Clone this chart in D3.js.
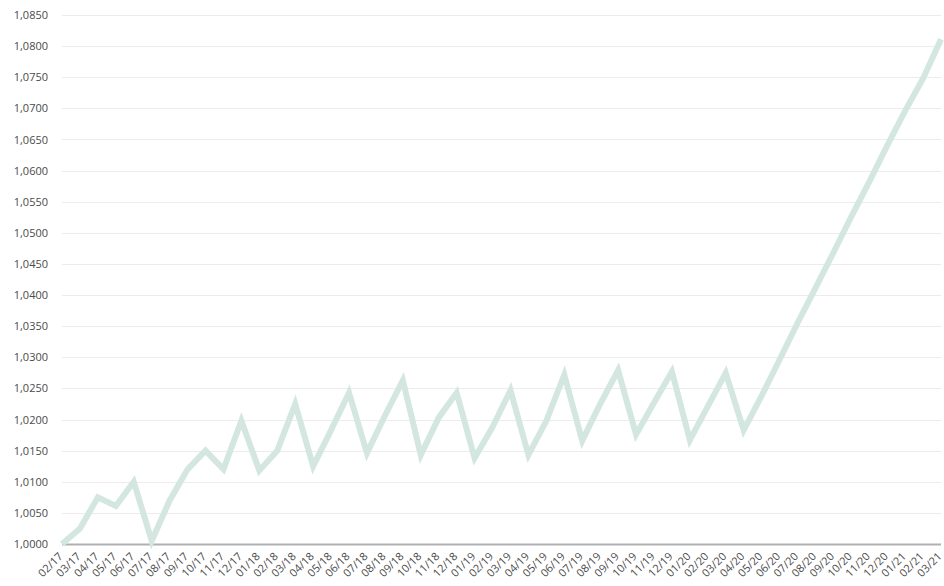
<!DOCTYPE html>
<html>
<head>
<meta charset="utf-8">
<script src="https://cdn.jsdelivr.net/npm/d3@7"></script>
<style>
  body { margin: 0; background: #fff; }
  svg { display: block; font-family: "Open Sans", sans-serif; }
</style>
</head>
<body>
<svg id="chart" width="944" height="586"></svg>
<script>
const months = [
  "02/17","03/17","04/17","05/17","06/17","07/17","08/17","09/17","10/17","11/17","12/17",
  "01/18","02/18","03/18","04/18","05/18","06/18","07/18","08/18","09/18","10/18","11/18","12/18",
  "01/19","02/19","03/19","04/19","05/19","06/19","07/19","08/19","09/19","10/19","11/19","12/19",
  "01/20","02/20","03/20","04/20","05/20","06/20","07/20","08/20","09/20","10/20","11/20","12/20",
  "01/21","02/21","03/21"
];

const values = [
  1.0000, 1.0025, 1.0075, 1.0061, 1.0100, 1.0005, 1.0070, 1.0120, 1.0150, 1.0120, 1.0198,
  1.0118, 1.0150, 1.0225, 1.0125, 1.0183, 1.0243, 1.0146, 1.0206, 1.0263, 1.0143, 1.0203, 1.0243,
  1.0138, 1.0188, 1.0247, 1.0143, 1.0198, 1.0272, 1.0166, 1.0225, 1.0279, 1.0176, 1.0227, 1.0277,
  1.0167, 1.0221, 1.0275, 1.0183, 1.0238, 1.0296, 1.0355, 1.0411, 1.0468, 1.0526, 1.0582, 1.0640,
  1.0696, 1.0748, 1.0811
];

const yTicks = [1.0000, 1.0050, 1.0100, 1.0150, 1.0200, 1.0250, 1.0300, 1.0350, 1.0400,
  1.0450, 1.0500, 1.0550, 1.0600, 1.0650, 1.0700, 1.0750, 1.0800, 1.0850];

const svg = d3.select("#chart");
const width = +svg.attr("width");
const height = +svg.attr("height");
const margin = { top: 15, right: 3, bottom: 42, left: 62 };
const innerW = width - margin.left - margin.right;
const innerH = height - margin.top - margin.bottom;

const g = svg.append("g").attr("transform", `translate(${margin.left},${margin.top})`);

// comma as decimal separator
const locale = d3.formatLocale({ decimal: ",", thousands: ".", grouping: [3], currency: ["", ""] });
const fmt = locale.format(".4f");

const x = d3.scalePoint()
  .domain(months)
  .range([0, innerW]);

const y = d3.scaleLinear()
  .domain([1.0, 1.085])
  .range([innerH, 0]);

// gridlines
g.append("g")
  .selectAll("line")
  .data(yTicks.slice(1))
  .join("line")
  .attr("x1", 0)
  .attr("x2", innerW)
  .attr("y1", d => Math.round(y(d)) + 0.5)
  .attr("y2", d => Math.round(y(d)) + 0.5)
  .attr("stroke", "#ececec")
  .attr("stroke-width", 1);

// y labels
const yAxis = d3.axisLeft(y).tickValues(yTicks).tickFormat(fmt).tickSize(0).tickPadding(14);
const yg = g.append("g").call(yAxis);
yg.select(".domain").remove();
yg.selectAll("text")
  .attr("fill", "#4a4a4a")
  .style("font-size", "11px")
  .style("font-family", "'Open Sans', sans-serif");

// x axis
const xAxis = d3.axisBottom(x).tickSize(0).tickPadding(0);
const xg = g.append("g")
  .attr("transform", `translate(0,${innerH})`)
  .call(xAxis);
xg.select(".domain").remove();
xg.append("line")
  .attr("x1", 0).attr("x2", innerW)
  .attr("y1", 0.5).attr("y2", 0.5)
  .attr("stroke", "#aeb0b3")
  .attr("stroke-width", 2);
xg.selectAll(".tick text")
  .attr("fill", "#4a4a4a")
  .attr("y", 0)
  .attr("dy", 0)
  .attr("text-anchor", "end")
  .attr("transform", "translate(1,13) rotate(-45)")
  .style("font-size", "11px")
  .style("font-family", "'Open Sans', sans-serif");

// line
const line = d3.line()
  .x((d, i) => x(months[i]))
  .y(d => y(d));

g.append("path")
  .datum(values)
  .attr("fill", "none")
  .attr("stroke", "#d3e7e0")
  .attr("stroke-width", 6)
  .attr("stroke-linejoin", "miter")
  .attr("d", line);
</script>
</body>
</html>
